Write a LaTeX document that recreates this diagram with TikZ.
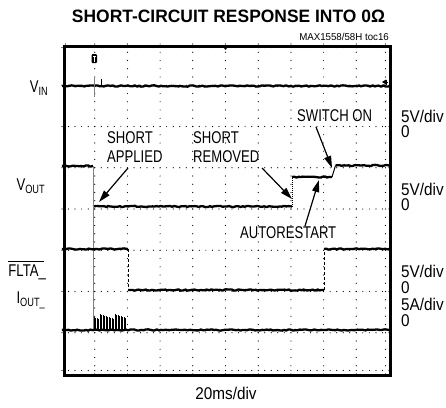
\documentclass[tikz,border=0pt]{standalone}
\usepackage{fontspec}
\setmainfont{Liberation Sans}[FakeStretch=0.77]
\newfontfamily\widefont{Liberation Sans}[FakeStretch=0.9]
\newfontfamily\tagfont{Liberation Sans}[FakeStretch=0.97]
\usetikzlibrary{arrows.meta,decorations.pathmorphing}
\begin{document}
\begin{tikzpicture}[x=1pt,y=-1pt,
  lbl/.style={inner sep=0pt,anchor=west,font=\fontsize{17}{17}\selectfont},
  side/.style={inner sep=0pt,anchor=west,font=\widefont\fontsize{17}{17}\selectfont},
  chan/.style={inner sep=0pt,anchor=east,font=\fontsize{17}{17}\selectfont},
  trace/.style={line width=2.3pt,line join=round,decorate,decoration={random steps,segment length=2.2pt,amplitude=0.65pt}},
  edge/.style={line width=1pt},
  arr/.style={-{Triangle[length=12pt,width=7pt]},line width=1.2pt},
  gdot/.style={fill=black}]
\pgfmathsetseed{7}
\useasboundingbox (0,0) rectangle (446,407);
% title
\node[inner sep=0pt] (title) at (228.5,16.5) {\resizebox{313pt}{12.5pt}{\bfseries SHORT-CIRCUIT RESPONSE INTO 0Ω}};
\node[inner sep=0pt,anchor=east,font=\tagfont\fontsize{10}{10}\selectfont] (tag) at (389,37) {MAX1558/58H toc16};
% graticule
\foreach \i in {1,...,9} {\foreach \k in {0,...,40} {\fill[gdot] (62+\i*32.7,44+\k*8.25) circle (0.6);}}
\foreach \j in {1,...,7} {\foreach \k in {0,...,50} {\fill[gdot] (62+\k*6.54,44+\j*41.25) circle (0.6);}}
\foreach \k in {0,...,50} {\fill[gdot] (62+\k*6.54,47.5) circle (0.6); \fill[gdot] (62+\k*6.54,370.5) circle (0.6);}
\foreach \k in {0,...,40} {\fill[gdot] (65.5,44+\k*8.25) circle (0.6); \fill[gdot] (385.5,44+\k*8.25) circle (0.6);}
\node[draw,line width=3pt,inner sep=0pt,minimum width=326pt,minimum height=329pt,anchor=north west] (frame) at (62.5,44.5) {};
% markers
\fill (225.5,46) -- ++(-3,0) -- ++(3,4) -- ++(3,-4) -- cycle;
\fill[rounded corners=1pt] (91.5,54) rectangle (97,63);
\draw[white,line width=0.6pt] (92.8,55.8) -- (95.7,55.8) (94.25,55.8) -- (94.25,61.5);
\fill (382,82) -- ++(4,-2.5) -- ++(0,5) -- cycle;
\draw[line width=0.8pt] (386,82) -- (388,82) (386,79.5) -- (386,84.5);
% VIN trace
\draw[trace] (62,86) -- (389,86);
\draw[line width=0.7pt,gray] (94.5,78) -- (94.5,97);
\draw[line width=0.8pt] (101.5,78.5) -- (101.5,86);
% VOUT trace
\draw[trace] (62,166) -- (93,166);
\draw[trace] (93,206.5) -- (292,206.5);
\draw[trace] (292,177) -- (332,177);
\draw[trace] (335.5,165.5) -- (389,165.5);
\draw[edge,gray] (93,166) -- (93,330);
\draw[edge,densely dotted] (292,206.5) -- (292,177);
\draw[edge] (332,177) -- (335.5,165.5);
% FLTA trace
\draw[trace] (62,249) -- (128,249);
\draw[trace] (128,290) -- (324,290);
\draw[trace] (324,249) -- (389,249);
\draw[edge,densely dashed] (128,249) -- (128,290);
\draw[edge,densely dashed] (324,290) -- (324,249);
% IOUT trace
\draw[trace] (62,330) -- (389,330);
\foreach \x in {94,95.5,...,126} {\draw[line width=0.6pt] (\x,330) -- (\x,{314+mod(\x*7,5)});}
% channel labels
\node[chan] (vin) at (48,88) {V\raisebox{-3pt}{\fontsize{12}{12}\selectfont IN}};
\node[chan] (vout) at (45,186) {V\raisebox{-3pt}{\fontsize{12}{12}\selectfont OUT}};
\node[chan] (flta) at (46,272) {FLTA\_};
\draw[line width=0.8pt] ([yshift=2.5pt]flta.north west) -- ([yshift=2.5pt,xshift=-2pt]flta.north east);
\node[chan] (iout) at (45,300) {I\raisebox{-3pt}{\fontsize{12}{12}\selectfont OUT\_}};
% scale labels
\node[side] (s1) at (401,116) {5V/div};
\node[side] (z1) at (401,132) {0};
\node[side] (s2) at (401,189) {5V/div};
\node[side] (z2) at (401,205) {0};
\node[side] (s3) at (401,271) {5V/div};
\node[side] (z3) at (401,288) {0};
\node[side] (s4) at (401,304) {5A/div};
\node[side] (z4) at (401,321) {0};
\node[inner sep=0pt,font=\widefont\fontsize{17}{17}\selectfont] (tb) at (226,393) {20ms/div};
% annotations
\node[lbl] (sh1) at (107,138) {SHORT};
\node[lbl] (ap) at (107,157) {APPLIED};
\node[lbl] (sh2) at (193,138) {SHORT};
\node[lbl] (rm) at (193,157) {REMOVED};
\node[lbl] (sw) at (297,116) {SWITCH ON};
\node[lbl] (ar) at (240,233) {AUTORESTART};
\coordinate (a1s) at (128,168); \coordinate (a1e) at (99,202);
\coordinate (a2s) at (262,168); \coordinate (a2e) at (292,199);
\coordinate (a3s) at (316,127); \coordinate (a3e) at (332,168);
\coordinate (a4s) at (305,226); \coordinate (a4e) at (319,180);
\draw[arr] (a1s) -- (a1e);
\draw[arr] (a2s) -- (a2e);
\draw[arr] (a3s) -- (a3e);
\draw[arr] (a4s) -- (a4e);
\end{tikzpicture}
\end{document}
